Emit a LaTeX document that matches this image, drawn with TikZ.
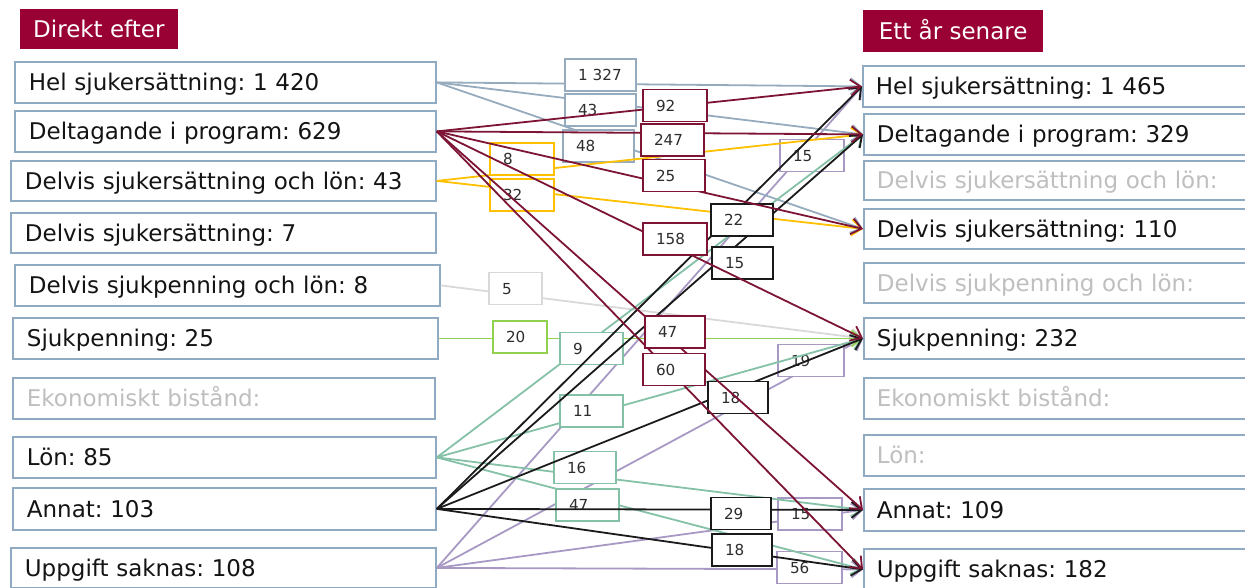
\documentclass[tikz,border=0pt]{standalone}
\usepackage{fontspec}
\setmainfont{DejaVu Sans}
\usetikzlibrary{arrows.meta}
\definecolor{boxc}{RGB}{143,170,193}
\definecolor{titc}{RGB}{153,0,51}
\definecolor{fblue}{RGB}{150,172,190}
\definecolor{fred}{RGB}{125,20,52}
\definecolor{fyel}{RGB}{255,192,0}
\definecolor{fgray}{RGB}{217,217,217}
\definecolor{fgreen}{RGB}{146,208,80}
\definecolor{fteal}{RGB}{132,193,167}
\definecolor{fpurp}{RGB}{168,153,196}
\definecolor{fblack}{RGB}{26,26,26}
\definecolor{txtg}{RGB}{191,191,191}
\definecolor{txtm}{RGB}{20,20,20}
\definecolor{labtxt}{RGB}{45,45,45}
\newcommand\mainsz{\fontsize{23}{27}\selectfont}
\newcommand\labsz{\fontsize{15.2}{18}\selectfont}
\frenchspacing
\begin{document}
\begin{tikzpicture}[x=1pt,y=-1pt,
  tit/.style={fill=titc, text=white, font=\mainsz, anchor=north west, inner xsep=13pt, inner ysep=0pt, text height=16.8pt, text depth=0pt, align=left},
  lb/.style={draw=boxc, line width=1.8pt, fill=white, font=\mainsz, text=txtm, anchor=north west, minimum height=41pt, inner xsep=14pt, inner ysep=0pt, text height=16.8pt, text depth=0pt, align=left},
  rb/.style={lb, text width=372pt, inner xsep=13pt},
  grey/.style={text=txtg},
  lab/.style 2 args={draw=#1, line width=1.7pt, fill=white, text width=#2, inner xsep=13pt, inner ysep=0pt, minimum height=32pt, align=left, font=\labsz, text=labtxt, text height=11pt, text depth=0pt},
  fl/.style={draw=#1, line width=1.8pt, -{Straight Barb[length=10pt,width=16pt]}}
]
\useasboundingbox (0,0) rectangle (1245,587);

% titles
\node[tit, minimum width=156pt, minimum height=40pt] (tL) at (20,9) {Direkt efter};
\node[tit, minimum width=180pt, minimum height=42pt] (tR) at (863,10) {Ett år senare};

% left boxes
\node[lb, text width=393pt] (L1) at (14,61) {Hel sjukersättning: 1 420};
\node[lb, text width=393pt] (L2) at (14,110) {Deltagande i program: 629};
\node[lb, text width=397pt, minimum height=40pt] (L3) at (10,160) {Delvis sjukersättning och lön: 43};
\node[lb, text width=397pt, minimum height=40pt] (L4) at (10,212) {Delvis sjukersättning: 7};
\node[lb, text width=397pt] (L5) at (14,264) {Delvis sjukpenning och lön: 8};
\node[lb, text width=397pt] (L6) at (12,317) {Sjukpenning: 25};
\node[lb, grey, text width=394pt] (L7) at (12,377) {Ekonomiskt bistånd:};
\node[lb, text width=395pt] (L8) at (12,436) {Lön: 85};
\node[lb, text width=395pt, minimum height=42pt] (L9) at (12,487) {Annat: 103};
\node[lb, text width=397pt, minimum height=40pt] (L10) at (10,547) {Uppgift saknas: 108};

% right boxes
\node[rb] (R1) at (862,65) {Hel sjukersättning: 1 465};
\node[rb] (R2) at (863,113) {Deltagande i program: 329};
\node[rb, grey, minimum height=39pt] (R3) at (863,160) {Delvis sjukersättning och lön:};
\node[rb, minimum height=40pt] (R4) at (863,208) {Delvis sjukersättning: 110};
\node[rb, grey, minimum height=40pt] (R5) at (863,262) {Delvis sjukpenning och lön:};
\node[rb] (R6) at (863,317) {Sjukpenning: 232};
\node[rb, grey] (R7) at (863,377) {Ekonomiskt bistånd:};
\node[rb, grey] (R8) at (863,434) {Lön:};
\node[rb, minimum height=42pt] (R9) at (863,488) {Annat: 109};
\node[rb] (R10) at (863,548) {Uppgift saknas: 182};

% purple: Uppgift saknas
\draw[fl=fpurp] (L10.east) -- (R1.west);
\draw[fl=fpurp] (L10.east) -- (R6.west);
\draw[fl=fpurp] (L10.east) -- (R9.west);
\draw[fl=fpurp] (L10.east) -- (R10.west);
\node[lab={fpurp}{38pt}] (p1) at (812,155.5) {15};
\node[lab={fpurp}{40pt}] (p2) at (811,360.5) {19};
\node[lab={fpurp}{38pt}] (p3) at (810,514) {15};
\node[lab={fpurp}{39pt}] (p4) at (809.5,567.5) {56};

% blue: Hel sjukersättning
\draw[fl=fblue] (L1.east) -- (R1.west);
\draw[fl=fblue] (L1.east) -- (R2.west);
\draw[fl=fblue] (L1.east) -- (R4.west);
\node[lab={fblue}{45pt}] (b1) at (600.5,75) {1 327};
\node[lab={fblue}{45pt}] (b2) at (600.5,110) {43};
\node[lab={fblue}{45pt}] (b3) at (598.5,146) {48};

% yellow: Delvis sjukersättning och lön
\draw[fl=fyel] (L3.east) -- (R2.west);
\draw[fl=fyel] (L3.east) -- (R4.west);
\node[lab={fyel}{38pt}] (y1) at (522,159) {8};
\node[lab={fyel}{38pt}] (y2) at (522,195) {32};

% gray: Delvis sjukpenning och lön
\draw[fl=fgray] (L5.east) -- (R6.west);
\node[lab={fgray}{27pt}] (g1) at (515.5,288.5) {5};

% green: Sjukpenning
\draw[fl=fgreen] (L6.east) -- (R6.west);
\node[lab={fgreen}{28pt}] (e1) at (520,337) {20};

% teal: Lön
\draw[fl=fteal] (L8.east) -- (R2.west);
\draw[fl=fteal] (L8.east) -- (R6.west);
\draw[fl=fteal] (L8.east) -- (R9.west);
\draw[fl=fteal] (L8.east) -- (R10.west);
\node[lab={fteal}{37pt}] (t1) at (591.5,348.5) {9};
\node[lab={fteal}{37pt}] (t2) at (591.5,411) {11};
\node[lab={fteal}{36pt}] (t3) at (585,467.5) {16};
\node[lab={fteal}{37pt}] (t4) at (587.5,505) {47};

% black: Annat
\draw[fl=fblack] (L9.east) -- (R1.west);
\draw[fl=fblack] (L9.east) -- (R2.west);
\draw[fl=fblack] (L9.east) -- (R6.west);
\draw[fl=fblack] (L9.east) -- (R9.west);
\draw[fl=fblack] (L9.east) -- (R10.west);
\node[lab={fblack}{36pt}] (k1) at (742,220) {22};
\node[lab={fblack}{35pt}] (k2) at (742.5,263) {15};
\node[lab={fblack}{34pt}] (k3) at (738,397.5) {18};
\node[lab={fblack}{34pt}] (k4) at (741,513.5) {29};
\node[lab={fblack}{34pt}] (k5) at (742,550) {18};

% red: Deltagande i program
\draw[fl=fred] (L2.east) -- (R1.west);
\draw[fl=fred] (L2.east) -- (R2.west);
\draw[fl=fred] (L2.east) -- (R4.west);
\draw[fl=fred] (L2.east) -- (R6.west);
\draw[fl=fred] (L2.east) -- (R9.west);
\draw[fl=fred] (L2.east) -- (R10.west);
\node[lab={fred}{38pt}] (r1) at (675,105.5) {92};
\node[lab={fred}{37pt}] (r2) at (672.5,140) {247};
\node[lab={fred}{36pt}] (r3) at (674,175.5) {25};
\node[lab={fred}{38pt}] (r4) at (675,239) {158};
\node[lab={fred}{34pt}] (r5) at (675,332) {47};
\node[lab={fred}{36pt}] (r6) at (674,369.5) {60};
\end{tikzpicture}
\end{document}
